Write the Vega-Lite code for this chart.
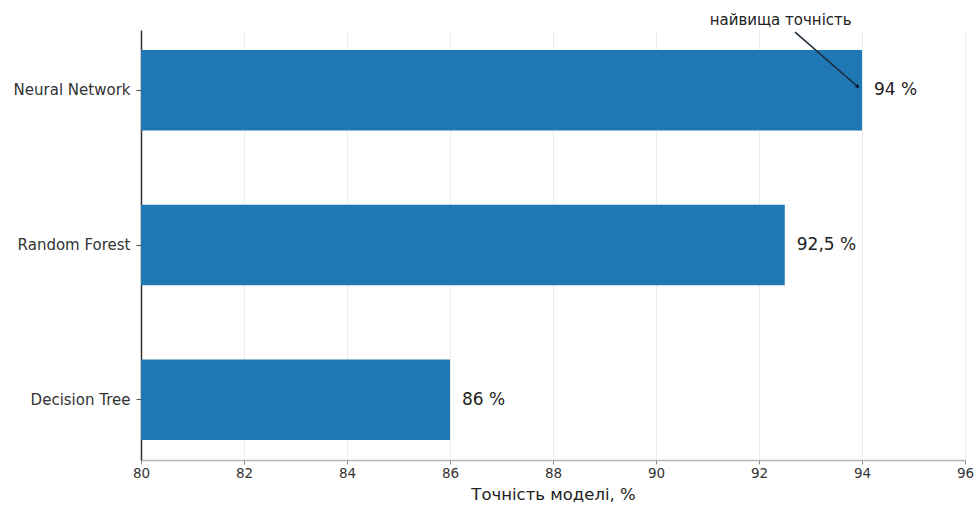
{
  "$schema": "https://vega.github.io/schema/vega-lite/v6.json",
  "width": 824,
  "height": 430,
  "autosize": {"type": "none"},
  "padding": {"left": 141, "top": 30, "right": 14, "bottom": 47},
  "background": "white",
  "config": {
    "font": "DejaVu Sans",
    "view": {"stroke": null}
  },
  "datasets": {
    "models": [
      {"model": "Neural Network", "accuracy": 94, "label": "94 %"},
      {"model": "Random Forest", "accuracy": 92.5, "label": "92,5 %"},
      {"model": "Decision Tree", "accuracy": 86, "label": "86 %"}
    ],
    "arrow": [
      {"x": 92.7, "y": 0.995, "x2": 93.92, "y2": 0.868}
    ],
    "note": [
      {"x": 92.42, "y": 1.024, "text": "найвища точність"}
    ]
  },
  "layer": [
    {
      "data": {"name": "models"},
      "encoding": {
        "y": {
          "field": "model", "type": "nominal",
          "sort": ["Neural Network", "Random Forest", "Decision Tree"],
          "scale": {"paddingInner": 0.48, "paddingOuter": 0.13},
          "axis": {
            "orient": "left",
            "title": null, "labelFontSize": 15, "labelColor": "#333333",
            "domainColor": "#333333", "domainWidth": 1.5,
            "tickColor": "#555555", "tickSize": 5, "labelPadding": 6, "grid": false
          }
        },
        "x": {
          "field": "accuracy", "type": "quantitative",
          "scale": {"domain": [80, 96], "zero": false, "nice": false},
          "axis": {
            "title": "Точність моделі, %", "titleFontSize": 16.5, "titleFontWeight": "normal",
            "titleColor": "#222222", "titlePadding": 7,
            "values": [80, 82, 84, 86, 88, 90, 92, 94, 96],
            "labelFontSize": 13.5, "labelColor": "#333333", "labelFlush": false,
            "domainColor": "#b5b5b5", "domainWidth": 1.5,
            "tickColor": "#888888", "tickSize": 4,
            "grid": true, "gridColor": "#ececec", "gridWidth": 1
          }
        }
      },
      "layer": [
        {
          "mark": {"type": "bar", "color": "#1f77b4", "clip": true}
        },
        {
          "mark": {"type": "text", "align": "left", "baseline": "middle", "dx": 12, "fontSize": 17, "color": "#222222"},
          "encoding": {
            "text": {"field": "label"}
          }
        }
      ]
    },
    {
      "data": {"name": "arrow"},
      "mark": {"type": "rule", "color": "#1a2a3a", "strokeWidth": 1.5, "clip": false},
      "encoding": {
        "x": {"field": "x", "type": "quantitative"},
        "x2": {"field": "x2"},
        "y": {"field": "y", "type": "quantitative", "scale": {"domain": [0, 1], "nice": false, "zero": false}, "axis": null},
        "y2": {"field": "y2"}
      }
    },
    {
      "data": {"name": "arrow"},
      "mark": {"type": "point", "shape": "triangle-up", "filled": true, "size": 22, "angle": 132, "color": "#0a1a30", "opacity": 1},
      "encoding": {
        "x": {"field": "x2", "type": "quantitative"},
        "y": {"field": "y2", "type": "quantitative", "scale": {"domain": [0, 1], "nice": false, "zero": false}, "axis": null}
      }
    },
    {
      "data": {"name": "note"},
      "mark": {"type": "text", "align": "center", "baseline": "middle", "fontSize": 15, "color": "#222222"},
      "encoding": {
        "x": {"field": "x", "type": "quantitative"},
        "y": {"field": "y", "type": "quantitative", "scale": {"domain": [0, 1], "nice": false, "zero": false}, "axis": null},
        "text": {"field": "text"}
      }
    }
  ],
  "resolve": {"scale": {"y": "independent"}}
}
